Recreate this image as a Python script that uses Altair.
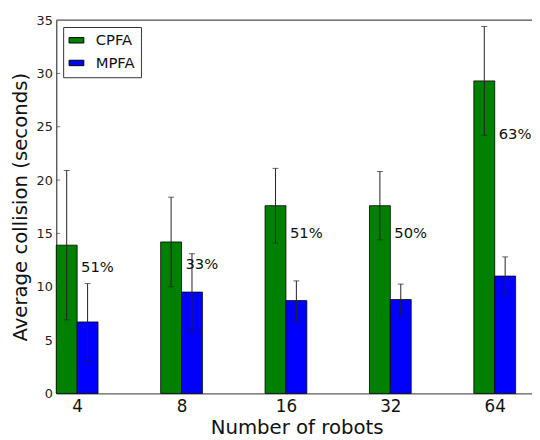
import altair as alt
import pandas as pd

robots = ["4", "8", "16", "32", "64"]
cpfa_mean = [13.9, 14.2, 17.6, 17.6, 29.3]
cpfa_err = [7.0, 4.2, 3.5, 3.2, 5.1]
mpfa_mean = [6.7, 9.5, 8.7, 8.8, 11.0]
mpfa_err = [3.6, 3.6, 1.85, 1.45, 1.8]
pct_labels = ["51%", "33%", "51%", "50%", "63%"]
pct_y = [11.8, 12.1, 15.0, 15.0, 24.3]

BW = 0.2
rows = []
for i, r in enumerate(robots):
    for s, m, e, off in (("CPFA", cpfa_mean[i], cpfa_err[i], 0.0),
                         ("MPFA", mpfa_mean[i], mpfa_err[i], BW)):
        rows.append({"robots": r, "series": s, "mean": m,
                     "lo": m - e, "hi": m + e,
                     "x0": i + off, "x1": i + off + BW, "xc": i + off + BW / 2})
df = pd.DataFrame(rows)
lab = pd.DataFrame({"x": [i + BW for i in range(len(robots))], "y": pct_y, "t": pct_labels})

FONT = "DejaVu Sans"
xs = alt.Scale(domain=[0, 4.557], nice=False, zero=False)
ys = alt.Scale(domain=[0, 35], nice=False)
color = alt.Scale(domain=["CPFA", "MPFA"], range=["#008000", "#0000ff"])

xaxis = alt.Axis(values=[i + BW for i in range(len(robots))],
                 labelExpr="['4','8','16','32','64'][round(datum.value-0.2)]",
                 title="Number of robots", titleFontSize=20, titleFontWeight="normal",
                 titleFont=FONT, titleColor="#111", titleX=244, titlePadding=4,
                 labelFontSize=17, labelFont=FONT, labelColor="#111", labelPadding=5,
                 tickSize=0, grid=False, domainColor="#666", domainWidth=1.2)
yaxis = alt.Axis(values=[0, 5, 10, 15, 20, 25, 30, 35], title="Average collision (seconds)",
                 titleFontSize=20, titleFontWeight="normal", titleFont=FONT, titleColor="#111",
                 titlePadding=6, labelFontSize=13, labelFont=FONT, labelColor="#222",
                 labelPadding=4, tickSize=0, grid=False, domainColor="#444", domainWidth=1.2)

bars = alt.Chart(df).mark_rect(stroke="black", strokeWidth=0.8).encode(
    x=alt.X("x0:Q", scale=xs, axis=xaxis),
    x2="x1:Q",
    y=alt.Y("mean:Q", scale=ys, axis=yaxis),
    y2=alt.datum(0),
    color=alt.Color("series:N", scale=color, sort=["CPFA", "MPFA"],
                    legend=alt.Legend(title=None, orient="none", legendX=7, legendY=7,
                                      strokeColor="#333", fillColor="white", padding=6,
                                      symbolType="M-1.5,-0.55H1.5V0.55H-1.5Z", symbolSize=100,
                                      symbolStrokeColor="black", symbolStrokeWidth=1,
                                      symbolOpacity=1, labelFontSize=15, labelFont=FONT,
                                      labelColor="#111", labelOffset=12, rowPadding=7,
                                      cornerRadius=0)),
)

err = alt.Chart(df).mark_rule(color="#222", strokeWidth=1).encode(
    x=alt.X("xc:Q", scale=xs), y=alt.Y("lo:Q", scale=ys), y2="hi:Q")
cap_hi = alt.Chart(df).mark_tick(color="#222", thickness=1, size=6, orient="horizontal").encode(
    x=alt.X("xc:Q", scale=xs), y=alt.Y("hi:Q", scale=ys))
cap_lo = alt.Chart(df).mark_tick(color="#222", thickness=1, size=6, orient="horizontal").encode(
    x=alt.X("xc:Q", scale=xs), y=alt.Y("lo:Q", scale=ys))

txt = alt.Chart(lab).mark_text(align="left", baseline="middle", dx=4, fontSize=15,
                               font=FONT, color="#111").encode(
    x=alt.X("x:Q", scale=xs), y=alt.Y("y:Q", scale=ys), text="t:N")

ytick_vals = pd.DataFrame({"v": [5, 10, 15, 20, 25, 30]})
yticks = alt.Chart(ytick_vals).mark_tick(color="#444", thickness=1, size=4,
                                         orient="horizontal").encode(
    x=alt.value(2), y=alt.Y("v:Q", scale=ys))

top = alt.Chart(pd.DataFrame({"a": [0]})).mark_rule(color="#555", strokeWidth=1.2).encode(
    x=alt.value(0), x2=alt.value(483), y=alt.value(0))

chart = alt.layer(bars, err, cap_hi, cap_lo, txt, yticks, top).properties(
    width=483, height=379,
    autosize=alt.AutoSizeParams(type="none"),
    padding={"left": 49, "top": 9, "right": 0, "bottom": 44},
).configure_view(stroke=None).configure(background="white")

chart.save("out.html", embed_options={"renderer": "svg", "actions": False})
